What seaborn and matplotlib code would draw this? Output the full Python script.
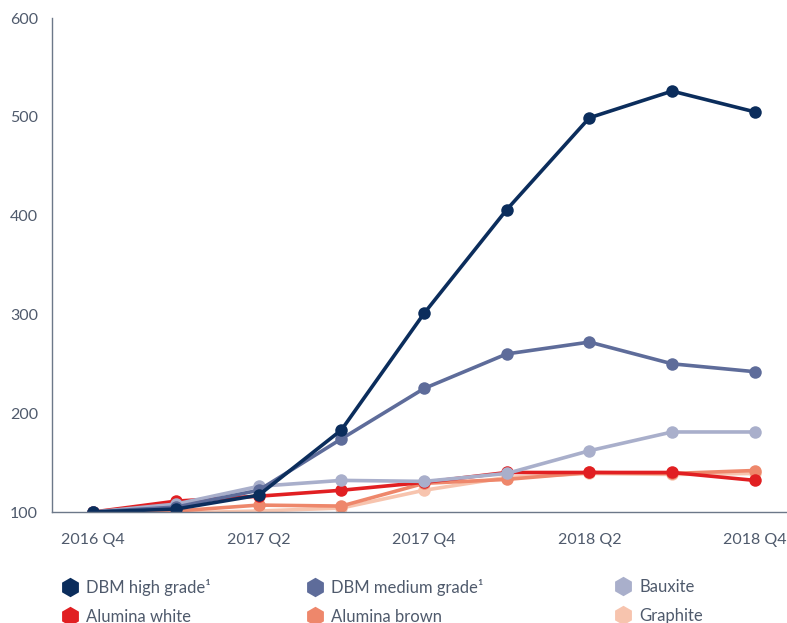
#!/usr/bin/env python3
"""Refractory raw material price index, 2016 Q4 = 100."""
import matplotlib
matplotlib.use("Agg")
import matplotlib.pyplot as plt
from matplotlib.lines import Line2D
import pandas as pd
import seaborn as sns

quarters = ["2016 Q4", "2017 Q1", "2017 Q2", "2017 Q3", "2017 Q4",
            "2018 Q1", "2018 Q2", "2018 Q3", "2018 Q4"]
dbm_high = [100, 103, 117, 183, 301, 406, 499, 526, 505]
dbm_medium = [100, 105, 122, 174, 225, 260, 272, 250, 242]
bauxite = [100, 108, 126, 132, 131, 139, 162, 181, 181]
alumina_white = [100, 111, 116, 122, 130, 140, 140, 140, 132]
alumina_brown = [100, 101, 107, 106, 129, 133, 140, 139, 142]
graphite = [100, 99, 101, 104, 122, 135, 139, 138, 139]

series = {
    "DBM high grade\u00b9": dbm_high,
    "DBM medium grade\u00b9": dbm_medium,
    "Bauxite": bauxite,
    "Alumina white": alumina_white,
    "Alumina brown": alumina_brown,
    "Graphite": graphite,
}
colors = {
    "DBM high grade\u00b9": "#0b2d5c",
    "DBM medium grade\u00b9": "#5e6c9a",
    "Bauxite": "#a9afcb",
    "Alumina white": "#e11f22",
    "Alumina brown": "#ee876b",
    "Graphite": "#f7c4ae",
}

long = pd.concat(
    [pd.DataFrame({"pos": range(len(quarters)), "value": v, "series": k}) for k, v in series.items()],
    ignore_index=True,
)

sns.set_style("white")
plt.rcParams["font.family"] = ["Lato", "DejaVu Sans"]
text_col = "#4f5a6c"
axis_col = "#6c7889"

fig = plt.figure(figsize=(7.87, 6.23), dpi=100)
ax = fig.add_axes([52 / 787, 1 - 512 / 623, 1 - 52 / 787, (512 - 18) / 623])

order = list(series.keys())[::-1]  # darkest drawn last, on top
sns.lineplot(data=long, x="pos", y="value", hue="series", hue_order=order, palette=colors,
             marker="o", markersize=9, markeredgewidth=0, linewidth=2.6, legend=False, ax=ax)

ax.set_xlim(-0.5, 8.39)
ax.set_ylim(100, 600)
ax.set_yticks(range(100, 601, 100))
ax.set_xticks(range(0, len(quarters), 2))
ax.set_xticklabels(quarters[::2])
ax.set_xticks([i + 0.5 for i in range(len(quarters) - 1)], minor=True)
ax.tick_params(axis="x", which="major", length=0, pad=15, labelsize=11.5, labelcolor=text_col)
ax.tick_params(axis="x", which="minor", length=9, width=1, direction="in", color=axis_col)
ax.tick_params(axis="y", length=0, pad=10, labelsize=11.5, labelcolor=text_col)
ax.set_xlabel("")
ax.set_ylabel("")
for side in ("top", "right"):
    ax.spines[side].set_visible(False)
for side in ("left", "bottom"):
    ax.spines[side].set_color(axis_col)
    ax.spines[side].set_linewidth(1)

# legend: three columns of two entries
names = list(series.keys())
col_x = [62 / 787, 307 / 787, 615 / 787]
for c in range(3):
    handles = [Line2D([], [], linestyle="none", marker="h", markersize=14, markeredgewidth=0,
                      color=colors[n]) for n in (names[c], names[c + 3])]
    fig.legend(handles, [names[c], names[c + 3]], loc="upper left",
               bbox_to_anchor=(col_x[c], 1 - 579 / 623), frameon=False, fontsize=12,
               labelcolor=text_col, handlelength=1.0, handletextpad=0.45, labelspacing=0.75,
               borderaxespad=0, borderpad=0)

fig.savefig("out.png", dpi=100, facecolor="white")
